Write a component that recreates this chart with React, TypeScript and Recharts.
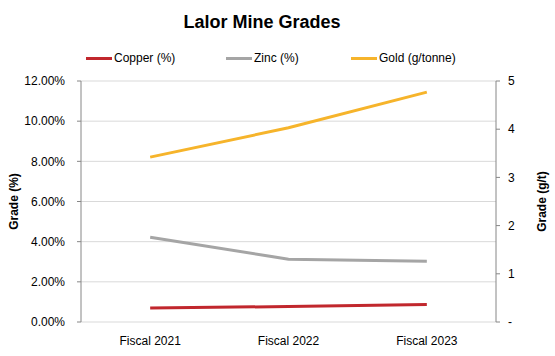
import { LineChart, Line, XAxis, YAxis, CartesianGrid, Legend } from "recharts"

const years = ["Fiscal 2021", "Fiscal 2022", "Fiscal 2023"]
const copper = [0.7, 0.77, 0.87]
const zinc = [4.22, 3.13, 3.02]
const gold = [3.42, 4.03, 4.77]
const pctTicks = [0, 2, 4, 6, 8, 10, 12]
const gtTicks = [0, 1, 2, 3, 4, 5]
const edgeTicks = [0, 1, 2, 3]

const series = [
  { key: "copper", name: "Copper (%)", color: "#C1272D", axis: "pct" },
  { key: "zinc", name: "Zinc (%)", color: "#A5A5A5", axis: "pct" },
  { key: "gold", name: "Gold (g/tonne)", color: "#F6B42B", axis: "gt" },
]

const data = years.map((year, i) => ({ year, copper: copper[i], zinc: zinc[i], gold: gold[i] }))

const font = "Arial, 'Liberation Sans', sans-serif"
const axisGray = "#868686"
const legendX = [86, 226, 351]

function LegendBox() {
  return (
    <div style={{ position: "relative", height: 33, fontFamily: font, fontSize: 12, color: "#000" }}>
      {series.map((s, i) => (
        <div
          key={s.key}
          style={{ position: "absolute", left: legendX[i], top: 0, height: 20, display: "flex", alignItems: "center" }}
        >
          <span style={{ display: "inline-block", width: 26, height: 3, background: s.color, marginRight: 2 }} />
          <span>{s.name}</span>
        </div>
      ))}
    </div>
  )
}

function axisTitle(text: string, x: number) {
  return (props: any) => {
    const vb = props.viewBox || {}
    const y = vb.y + vb.height / 2
    return (
      <text
        x={x}
        y={y}
        transform={`rotate(-90 ${x} ${y})`}
        textAnchor="middle"
        dominantBaseline="central"
        fontFamily={font}
        fontSize={12}
        fontWeight="bold"
        fill="#000"
      >
        {text}
      </text>
    )
  }
}

export default function App() {
  return (
    <div style={{ position: "absolute", left: 0, top: 0, width: 555, height: 356, background: "#fff", fontFamily: font }}>
      <div
        style={{
          position: "absolute",
          left: 0,
          width: 524,
          top: 13,
          textAlign: "center",
          fontSize: 18,
          lineHeight: "18px",
          fontWeight: "bold",
          color: "#000",
        }}
      >
        Lalor Mine Grades
      </div>
      <LineChart width={555} height={356} data={data} margin={{ top: 48, right: 0, bottom: 0, left: 0 }}>
        <CartesianGrid yAxisId="pct" vertical={false} stroke="#D9D9D9" />
        <XAxis
          xAxisId="edge"
          type="number"
          domain={[0, 3]}
          ticks={edgeTicks}
          tick={false}
          height={0}
          tickSize={4}
          stroke={axisGray}
        />
        <XAxis
          dataKey="year"
          scale="band"
          height={34}
          axisLine={false}
          tickLine={false}
          tickSize={4}
          tickMargin={10}
          tick={{ fill: "#000", fontSize: 12, fontFamily: font }}
        />
        <YAxis
          yAxisId="pct"
          orientation="left"
          width={81}
          domain={[0, 12]}
          ticks={pctTicks}
          tickSize={4}
          tickMargin={12}
          stroke={axisGray}
          tick={{ fill: "#000", fontSize: 12, fontFamily: font }}
          tickFormatter={(v: number) => `${v.toFixed(2)}%`}
          label={{ content: axisTitle("Grade (%)", 14) }}
        />
        <YAxis
          yAxisId="gt"
          orientation="right"
          width={59}
          domain={[0, 5]}
          ticks={gtTicks}
          tickSize={4}
          tickMargin={8}
          stroke={axisGray}
          tick={{ fill: "#000", fontSize: 12, fontFamily: font }}
          tickFormatter={(v: number) => (v === 0 ? "-" : String(v))}
          label={{ content: axisTitle("Grade (g/t)", 542) }}
        />
        <Legend verticalAlign="top" wrapperStyle={{ left: 0, width: 555 }} content={() => <LegendBox />} />
        {series.map((s) => (
          <Line
            key={s.key}
            yAxisId={s.axis}
            dataKey={s.key}
            name={s.name}
            stroke={s.color}
            strokeWidth={3}
            dot={false}
            activeDot={false}
            isAnimationActive={false}
          />
        ))}
      </LineChart>
    </div>
  )
}
